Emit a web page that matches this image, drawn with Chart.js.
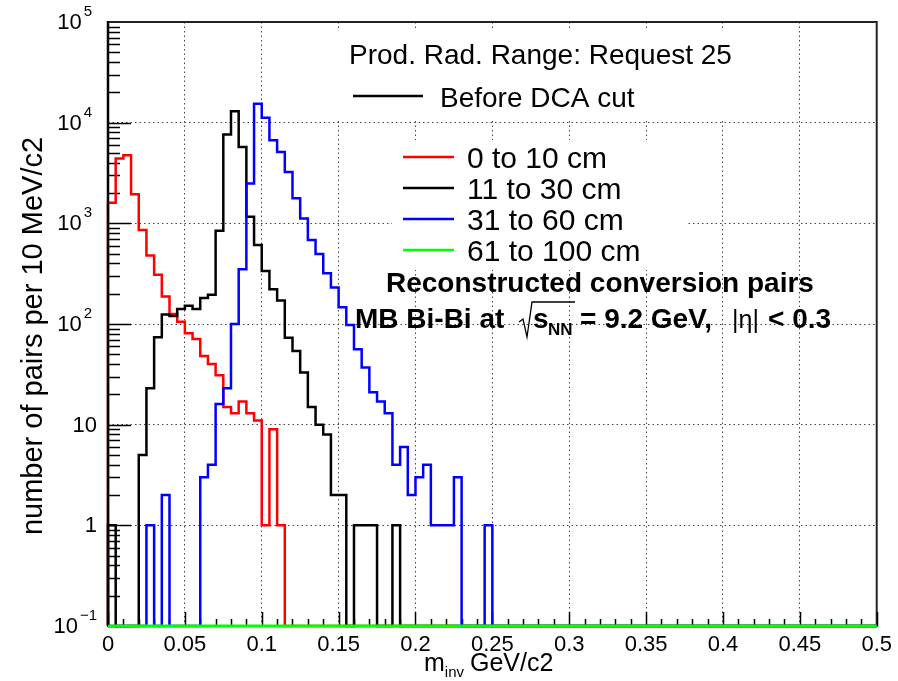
<!DOCTYPE html>
<html>
<head>
<meta charset="utf-8">
<title>Conversion pairs m_inv</title>
<script src="https://cdn.jsdelivr.net/npm/chart.js@4.4.1/dist/chart.umd.min.js"></script>
<style>
    html, body { margin: 0; padding: 0; background: #fff; }
    #wrap { width: 898px; height: 681px; }
</style>
</head>
<body>
<div id="wrap"><canvas id="minvChart" width="898" height="681"></canvas></div>
<script>
// histogram binning: 100 bins of 5 MeV/c2 between 0 and 0.5 GeV/c2
const xMin = 0;
const xMax = 0.5;
const binWidth = 0.005;

// counts per bin
const counts0to10 = [
    1600, 4400, 4750, 1950, 860, 480, 308, 188, 126, 105,
    81, 71, 48, 40, 31, 15, 13, 17, 13, 11,
    1, 9, 1, 0, 0, 0, 0, 0, 0, 0,
    0, 0, 0, 0, 0, 0, 0, 0, 0, 0,
    0, 0, 0, 0, 0, 0, 0, 0, 0, 0,
    0, 0, 0, 0, 0, 0, 0, 0, 0, 0,
    0, 0, 0, 0, 0, 0, 0, 0, 0, 0,
    0, 0, 0, 0, 0, 0, 0, 0, 0, 0,
    0, 0, 0, 0, 0, 0, 0, 0, 0, 0,
    0, 0, 0, 0, 0, 0, 0, 0, 0, 0
];
const counts11to30 = [
    1, 0, 0, 0, 5, 23, 74, 124, 120, 141,
    152, 141, 181, 195, 845, 7650, 13000, 5730, 1160, 610,
    337, 222, 171, 73, 54, 33, 15, 10, 8, 2,
    2, 0, 1, 1, 1, 0, 0, 1, 0, 0,
    0, 0, 0, 0, 0, 0, 0, 0, 0, 0,
    0, 0, 0, 0, 0, 0, 0, 0, 0, 0,
    0, 0, 0, 0, 0, 0, 0, 0, 0, 0,
    0, 0, 0, 0, 0, 0, 0, 0, 0, 0,
    0, 0, 0, 0, 0, 0, 0, 0, 0, 0,
    0, 0, 0, 0, 0, 0, 0, 0, 0, 0
];
const counts31to60 = [
    0, 0, 0, 0, 0, 1, 0, 2, 0, 0,
    0, 0, 3, 4, 16, 23, 100, 350, 2490, 15400,
    11200, 6700, 5120, 3240, 1770, 1120, 684, 497, 320, 230,
    147, 98, 56, 37, 21, 17, 13, 4, 6, 2,
    3, 4, 1, 1, 1, 3, 0, 0, 0, 1,
    0, 0, 0, 0, 0, 0, 0, 0, 0, 0,
    0, 0, 0, 0, 0, 0, 0, 0, 0, 0,
    0, 0, 0, 0, 0, 0, 0, 0, 0, 0,
    0, 0, 0, 0, 0, 0, 0, 0, 0, 0,
    0, 0, 0, 0, 0, 0, 0, 0, 0, 0
];
const counts61to100 = [
    0, 0, 0, 0, 0, 0, 0, 0, 0, 0,
    0, 0, 0, 0, 0, 0, 0, 0, 0, 0,
    0, 0, 0, 0, 0, 0, 0, 0, 0, 0,
    0, 0, 0, 0, 0, 0, 0, 0, 0, 0,
    0, 0, 0, 0, 0, 0, 0, 0, 0, 0,
    0, 0, 0, 0, 0, 0, 0, 0, 0, 0,
    0, 0, 0, 0, 0, 0, 0, 0, 0, 0,
    0, 0, 0, 0, 0, 0, 0, 0, 0, 0,
    0, 0, 0, 0, 0, 0, 0, 0, 0, 0,
    0, 0, 0, 0, 0, 0, 0, 0, 0, 0
];

const seriesLabels = ['0 to 10 cm', '11 to 30 cm', '31 to 60 cm', '61 to 100 cm'];
const seriesColors = ['#ff0000', '#000000', '#0000ff', '#00ff00'];

// axis ticks
const xTicks = [0, 0.05, 0.1, 0.15, 0.2, 0.25, 0.3, 0.35, 0.4, 0.45, 0.5];
const yTicks = [0.1, 1, 10, 100, 1000, 10000, 100000];
const yTickBase = ['10', '1', '10', '10', '10', '10', '10'];
const yTickExp = ['\u22121', '', '', '2', '3', '4', '5'];
const yMin = 0.1;
const yMax = 100000;

// outline of a ROOT style histogram; empty bins sit on the bottom of the log axis
function histOutline(counts) {
    const pts = [{ x: xMin, y: yMin }];
    counts.forEach((c, i) => {
        pts.push({ x: xMin + i * binWidth, y: c > 0 ? c : yMin });
    });
    pts.push({ x: xMin + counts.length * binWidth, y: yMin });
    return pts;
}

const FONT = '"Liberation Sans", Arial, Helvetica, sans-serif';

// frame, ticks, legend and labels drawn like the ROOT canvas
const rootDecor = {
    id: 'rootDecor',
    beforeDatasetsDraw(chart) {
        const ctx = chart.ctx;
        const a = chart.chartArea;
        const xs = chart.scales.x;
        const ys = chart.scales.y;
        ctx.save();

        // legend boxes (white fill hides the grid)
        ctx.fillStyle = '#fff';
        ctx.fillRect(333, 31, 430, 89);
        ctx.fillRect(392, 140, 295, 130);

        // frame
        ctx.strokeStyle = '#222';
        ctx.lineWidth = 2;
        ctx.strokeRect(a.left, a.top, a.right - a.left, a.bottom - a.top);

        // y ticks (inside)
        ctx.strokeStyle = '#000';
        ctx.lineWidth = 1.5;
        ctx.beginPath();
        for (let d = -1; d < 5; d++) {
            for (let m = 1; m <= 9; m++) {
                const v = m * Math.pow(10, d);
                const py = Math.round(ys.getPixelForValue(v)) + 0.5;
                const len = m === 1 ? 23 : 12;
                ctx.moveTo(a.left, py);
                ctx.lineTo(a.left + len, py);
            }
        }
        // x ticks (inside), primary every 0.05, secondary every 0.01
        for (let k = 0; k <= 50; k++) {
            const px = Math.round(xs.getPixelForValue(k * 0.01)) + 0.5;
            const len = k % 5 === 0 ? 14 : 7;
            ctx.moveTo(px, a.bottom);
            ctx.lineTo(px, a.bottom - len);
        }
        ctx.stroke();
        ctx.restore();
    },
    afterDatasetsDraw(chart) {
        // y axis line on top of the histograms
        const ctx = chart.ctx;
        const a = chart.chartArea;
        ctx.save();
        ctx.strokeStyle = '#000';
        ctx.lineWidth = 2.5;
        ctx.beginPath();
        ctx.moveTo(a.left, a.top - 1);
        ctx.lineTo(a.left, a.bottom - 1.5);
        ctx.stroke();
        ctx.restore();
    },
    afterDraw(chart) {
        const ctx = chart.ctx;
        const ys = chart.scales.y;
        ctx.save();
        ctx.fillStyle = '#000';
        ctx.textBaseline = 'middle';

        // y tick labels with exponents
        yTicks.forEach((v, i) => {
            const py = ys.getPixelForValue(v);
            ctx.textAlign = 'right';
            if (yTickExp[i]) {
                const right = yTickExp[i].length > 1 ? 97 : 92;
                ctx.font = '15px ' + FONT;
                const ew = ctx.measureText(yTickExp[i]).width;
                ctx.fillText(yTickExp[i], right, py - 10);
                ctx.font = '22px ' + FONT;
                ctx.fillText(yTickBase[i], right - ew - 2, py + 1);
            } else {
                ctx.font = '22px ' + FONT;
                ctx.fillText(yTickBase[i], 97, py + 1);
            }
        });

        // y axis title
        ctx.save();
        ctx.translate(42, 336);
        ctx.rotate(-Math.PI / 2);
        ctx.font = '29px ' + FONT;
        ctx.textAlign = 'center';
        ctx.textBaseline = 'alphabetic';
        ctx.fillText('number of pairs per 10 MeV/c2', 0, 0);
        ctx.restore();

        // x axis title: m_inv GeV/c2
        ctx.textAlign = 'left';
        ctx.textBaseline = 'alphabetic';
        let tx = 424;
        ctx.font = '25px ' + FONT;
        ctx.fillText('m', tx, 671);
        tx += ctx.measureText('m').width;
        ctx.font = '15px ' + FONT;
        ctx.fillText('inv', tx, 677);
        ctx.font = '25px ' + FONT;
        ctx.fillText('GeV/c2', 470, 671);

        // legend title and "Before DCA cut"
        ctx.font = '28px ' + FONT;
        ctx.fillText('Prod. Rad. Range: Request 25', 349, 64);
        ctx.strokeStyle = '#000';
        ctx.lineWidth = 2.5;
        ctx.beginPath();
        ctx.moveTo(353, 96);
        ctx.lineTo(423, 96);
        ctx.stroke();
        ctx.fillText('Before DCA cut', 440, 107);

        // series legend
        const rows = [157, 188, 219, 250];
        ctx.font = '30px ' + FONT;
        seriesLabels.forEach((lab, i) => {
            ctx.strokeStyle = seriesColors[i];
            ctx.lineWidth = 2.5;
            ctx.beginPath();
            ctx.moveTo(403, rows[i]);
            ctx.lineTo(454, rows[i]);
            ctx.stroke();
            ctx.fillText(lab, 467, rows[i] + 11);
        });

        // bold annotations
        ctx.font = 'bold 28px ' + FONT;
        ctx.fillText('Reconstructed conversion pairs', 386, 292);

        const by = 328;
        ctx.fillText('MB Bi-Bi at', 355, by);
        // square root sign over s_NN
        ctx.strokeStyle = '#000';
        ctx.lineWidth = 1.3;
        ctx.beginPath();
        ctx.moveTo(519, 322);
        ctx.lineTo(523, 319);
        ctx.lineTo(527, 337);
        ctx.lineTo(532, 302);
        ctx.lineTo(575, 302);
        ctx.stroke();
        ctx.fillText('s', 533, by);
        ctx.font = 'bold 17px ' + FONT;
        ctx.fillText('NN', 548, by + 7);
        ctx.font = 'bold 28px ' + FONT;
        ctx.fillText('= 9.2 GeV,', 580, by);
        ctx.font = '25px ' + FONT;
        ctx.fillText('|\u03b7|', 732, by);
        ctx.font = 'bold 28px ' + FONT;
        ctx.fillText('< 0.3', 768, by);

        ctx.restore();
    }
};

const ctx = document.getElementById('minvChart').getContext('2d');
const minvChart = new Chart(ctx, {
    type: 'line',
    data: {
        datasets: [
            { label: seriesLabels[0], data: histOutline(counts0to10), borderColor: seriesColors[0], order: 4 },
            { label: seriesLabels[1], data: histOutline(counts11to30), borderColor: seriesColors[1], order: 3 },
            { label: seriesLabels[2], data: histOutline(counts31to60), borderColor: seriesColors[2], order: 2 },
            { label: seriesLabels[3], data: histOutline(counts61to100), borderColor: seriesColors[3], borderWidth: 3, order: 1 }
        ]
    },
    options: {
        responsive: false,
        animation: false,
        layout: { padding: { top: 22, right: 21, left: 0, bottom: 0 } },
        elements: {
            line: { borderWidth: 2.5, stepped: true, fill: false, tension: 0, borderJoinStyle: 'miter', borderCapStyle: 'butt' },
            point: { radius: 0, hoverRadius: 0 }
        },
        datasets: { line: { clip: false } },
        plugins: {
            legend: { display: false },
            tooltip: { enabled: false }
        },
        scales: {
            x: {
                type: 'linear',
                min: xMin,
                max: xMax,
                afterBuildTicks: s => { s.ticks = xTicks.map(v => ({ value: v })); },
                afterFit: s => { s.height = 55; },
                ticks: {
                    autoSkip: false,
                    maxRotation: 0,
                    padding: 6,
                    color: '#000',
                    font: { family: FONT, size: 22 },
                    callback: v => String(+v.toFixed(2))
                },
                grid: { color: '#444', lineWidth: 1, drawTicks: false },
                border: { display: false, dash: [1.5, 3] }
            },
            y: {
                type: 'logarithmic',
                min: yMin,
                max: yMax,
                afterBuildTicks: s => { s.ticks = yTicks.map(v => ({ value: v })); },
                afterFit: s => { s.width = 108; },
                ticks: { display: false },
                grid: { color: '#444', lineWidth: 1, drawTicks: false },
                border: { display: false, dash: [1.5, 3] }
            }
        }
    },
    plugins: [rootDecor]
});
</script>
</body>
</html>
